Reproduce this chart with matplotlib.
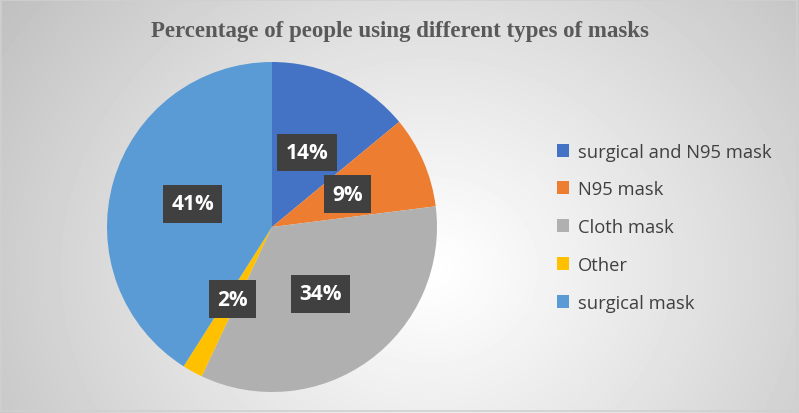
import numpy as np
import matplotlib.pyplot as plt
from matplotlib.patches import Rectangle

# Data
categories = ['surgical and N95 mask', 'N95 mask', 'Cloth mask', 'Other', 'surgical mask']
percentages = [14, 9, 34, 2, 41]
colors = ['#4472C4', '#ED7D31', '#B0B0B0', '#FFC000', '#5B9BD5']
title = 'Percentage of people using different types of masks'

W, H = 799, 414
fig = plt.figure(figsize=(W / 100, H / 100), dpi=100)

# radial gradient background
bg = fig.add_axes([0, 0, 1, 1])
yy, xx = np.mgrid[0:H, 0:W]
cx, cy = 430, 270
dist = np.sqrt(((xx - cx) / 1.15) ** 2 + (yy - cy) ** 2)
dist = dist / dist.max()
shade = 1.0 - 0.25 * np.clip(dist, 0, 1) ** 1.1
bg.imshow(shade, cmap='gray', vmin=0, vmax=1, extent=[0, W, H, 0], aspect='auto')
bg.add_patch(Rectangle((1, 1), W - 3, H - 3, fill=False, edgecolor='#d0d0d0', lw=1.2))
bg.set_xlim(0, W)
bg.set_ylim(H, 0)
bg.axis('off')

# pie axes: centre (272, 228) px, radius 165 px
r = 165
ax = fig.add_axes([(272 - r) / W, (H - 228 - r) / H, 2 * r / W, 2 * r / H])
wedges, texts, autotexts = ax.pie(
    percentages, colors=colors, startangle=90, counterclock=False,
    autopct='%d%%', pctdistance=0.5, radius=1.0,
    wedgeprops=dict(linewidth=0),
    textprops=dict(color='white', fontsize=15, fontweight='bold', family='Open Sans'))
for t in autotexts:
    t.set_bbox(dict(boxstyle='square,pad=0.4', facecolor='#404040', edgecolor='none'))
ax.set_xlim(-1, 1)
ax.set_ylim(-1, 1)
ax.set_aspect('equal')
ax.axis('off')

fig.text(0.5, 1 - 31 / H, title, ha='center', va='center', fontsize=16.5,
         fontweight='bold', color='#595959', family='Liberation Serif')

leg = fig.legend(wedges, categories, loc='upper left',
                 bbox_to_anchor=(540 / W, 1 - 127 / H), frameon=False,
                 prop=dict(family='Open Sans', size=13.2), labelcolor='#404040',
                 handlelength=0.7, handleheight=0.7, handletextpad=0.45,
                 labelspacing=1.08)

fig.savefig('out.png', dpi=100)
